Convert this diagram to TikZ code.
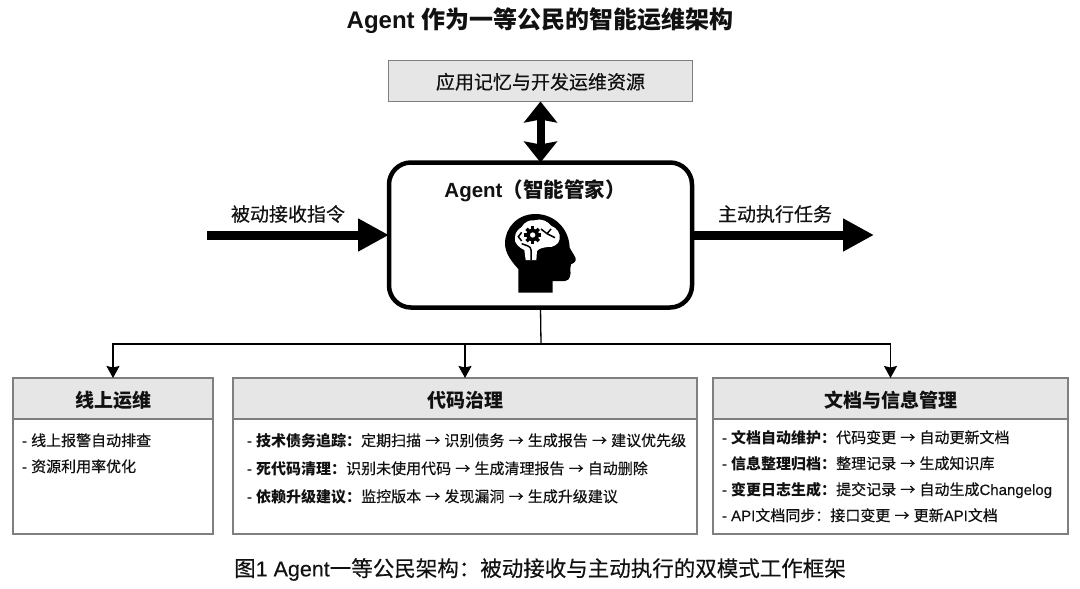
\documentclass[tikz,border=0pt]{standalone}
\usepackage{fontspec}
\usetikzlibrary{arrows.meta}
\setmainfont{Liberation Sans}[UprightFeatures={FakeBold=0.2}]
\newfontfamily\cjk{Noto Sans CJK SC}[UprightFeatures={FakeBold=0.4}]
\newcommand\C[1]{{\cjk #1}}
\newcommand\A{\C{→}}
\newcommand\fs[1]{\fontsize{#1}{#1}\selectfont}
\newcommand\dn[2]{\raisebox{0pt}[#1][0pt]{#2}}
\definecolor{ink}{HTML}{111111}
\definecolor{edge}{HTML}{7F7F7F}
\definecolor{head}{HTML}{E6E6E6}
\tikzset{
  x=1pt,y=-1pt,
  every node/.style={text=ink,inner sep=0pt,outer sep=0pt},
  hdr/.style={draw=edge,fill=head,line width=1.5pt,anchor=north west,minimum height=41pt,font=\fs{19}\bfseries},
  bodybox/.style={draw=edge,fill=white,line width=1.5pt,anchor=north west,minimum height=115pt},
  item/.style={anchor=base west,font=\fs{15}},
  lbl/.style={font=\fs{19}},
  thick arrow/.style={line width=9pt,-{Stealth[length=31pt,width=31pt,inset=0pt]},draw=black},
  dbl arrow/.style={line width=8pt,{Stealth[length=21pt,width=33pt,inset=3pt]}-{Stealth[length=21pt,width=33pt,inset=3pt]},draw=black},
  thin arrow/.style={line width=1.3pt,-{Stealth[length=12pt,width=13pt,inset=1.5pt]},draw=black},
}
\begin{document}
\begin{tikzpicture}
\useasboundingbox (0,0) rectangle (1080,589);
\node[font=\fs{24}\bfseries] (title) at (540,21) {Agent \C{作为一等公民的智能运维架构}};
\node[draw=edge,fill=head,line width=1.5pt,minimum width=304pt,minimum height=41pt,font=\fs{19}] (mem) at (540.5,81) {\dn{16pt}{\C{应用记忆与开发运维资源}}};
\node[draw=black,fill=white,line width=4.5pt,rounded corners=22pt,minimum width=303pt,minimum height=145pt] (agent) at (540.5,235) {};
\node[font=\fs{20.5}\bfseries,anchor=base] (agentlabel) at (535,197) {Agent\C{（智能管家）}};
% side arrows
\coordinate (inS) at (207,235);
\coordinate (outE) at (874,235);
\draw[thick arrow] (inS) -- (agent.west);
\draw[thick arrow] (agent.east) -- (outE);
\node[lbl] (inlabel) at (288,214) {\C{被动接收指令}};
\node[lbl] (outlabel) at (775,214) {\C{主动执行任务}};
\draw[dbl arrow] (mem.south) -- (agent.north);
% head icon
\begin{scope}[shift={(491,205)},scale=1/3]
\fill[black] (82,263) -- (185,263) -- (185,228) -- (222,228) .. controls (238,226) and (240,210) .. (238,190) -- (240,178) .. controls (256,172) and (258,162) .. (250,152) -- (236,128) .. controls (234,70) and (190,28) .. (135,27) .. controls (80,26) and (42,68) .. (42,115) .. controls (42,145) and (62,170) .. (82,192) -- cycle;
\fill[white] (72,97) .. controls (72,80) and (84,72) .. (92,66) .. controls (100,50) and (118,44) .. (130,46) .. controls (150,38) and (172,50) .. (180,62) .. controls (198,68) and (210,88) .. (206,102) .. controls (204,118) and (186,128) .. (170,126) .. controls (155,128) and (145,130) .. (138,138) -- (136,165) -- (104,165) -- (100,135) .. controls (85,128) and (68,115) .. (72,97) -- cycle;
\fill[black] (125,90) circle (19);
\foreach \a in {0,45,...,315} {\fill[black,rotate around={\a:(125,90)}] (120,64) rectangle (130,77);}
\fill[white] (125,90) circle (8);
\draw[black,line width=1.5pt] (150,72) -- (168,86) -- (180,72) (168,86) -- (192,98);
\draw[black,line width=1.5pt] (92,82) -- (82,95) -- (92,108);
\draw[black,line width=1.5pt] (120,165) -- (120,135) .. controls (120,122) and (105,122) .. (92,116);
\end{scope}
% boxes
\node[hdr,minimum width=200pt] (opsH) at (13,378) {\dn{17pt}{\C{线上运维}}};
\node[bodybox,minimum width=200pt] (opsB) at (opsH.south west) {};
\node[hdr,minimum width=464pt] (codeH) at (233,378) {\dn{17pt}{\C{代码治理}}};
\node[bodybox,minimum width=464pt] (codeB) at (codeH.south west) {};
\node[hdr,minimum width=355pt] (docH) at (713,378) {\dn{17pt}{\C{文档与信息管理}}};
\node[bodybox,minimum width=355pt] (docB) at (docH.south west) {};
% connectors
\coordinate (bus) at (541,344);
\draw[line width=1.3pt,draw=black] (agent.south) -- (bus);
\draw[thin arrow] (bus) -| (opsH.north);
\draw[thin arrow] (bus) -| (codeH.north);
\draw[thin arrow] (bus) -| (docH.north);
% lists
\node[item] (o1) at (22,446) {- \C{线上报警自动排查}};
\node[item] (o2) at (22,472) {- \C{资源利用率优化}};
\node[item] (c1) at (247,446) {- \textbf{\C{技术债务追踪：}}\C{定期扫描} \A{} \C{识别债务} \A{} \C{生成报告} \A{} \C{建议优先级}};
\node[item] (c2) at (247,474) {- \textbf{\C{死代码清理：}}\C{识别未使用代码} \A{} \C{生成清理报告} \A{} \C{自动删除}};
\node[item] (c3) at (247,502) {- \textbf{\C{依赖升级建议：}}\C{监控版本} \A{} \C{发现漏洞} \A{} \C{生成升级建议}};
\node[item] (d1) at (722,443) {- \textbf{\C{文档自动维护：}}\C{代码变更} \A{} \C{自动更新文档}};
\node[item] (d2) at (722,469) {- \textbf{\C{信息整理归档：}}\C{整理记录} \A{} \C{生成知识库}};
\node[item] (d3) at (722,495) {- \textbf{\C{变更日志生成：}}\C{提交记录} \A{} \C{自动生成}Changelog};
\node[item] (d4) at (722,521) {- API\C{文档同步：接口变更} \A{} \C{更新}API\C{文档}};
\node[font=\fs{21.5}] (caption) at (540,569.5) {\C{图}1 Agent\C{一等公民架构：被动接收与主动执行的双模式工作框架}};
\end{tikzpicture}
\end{document}
